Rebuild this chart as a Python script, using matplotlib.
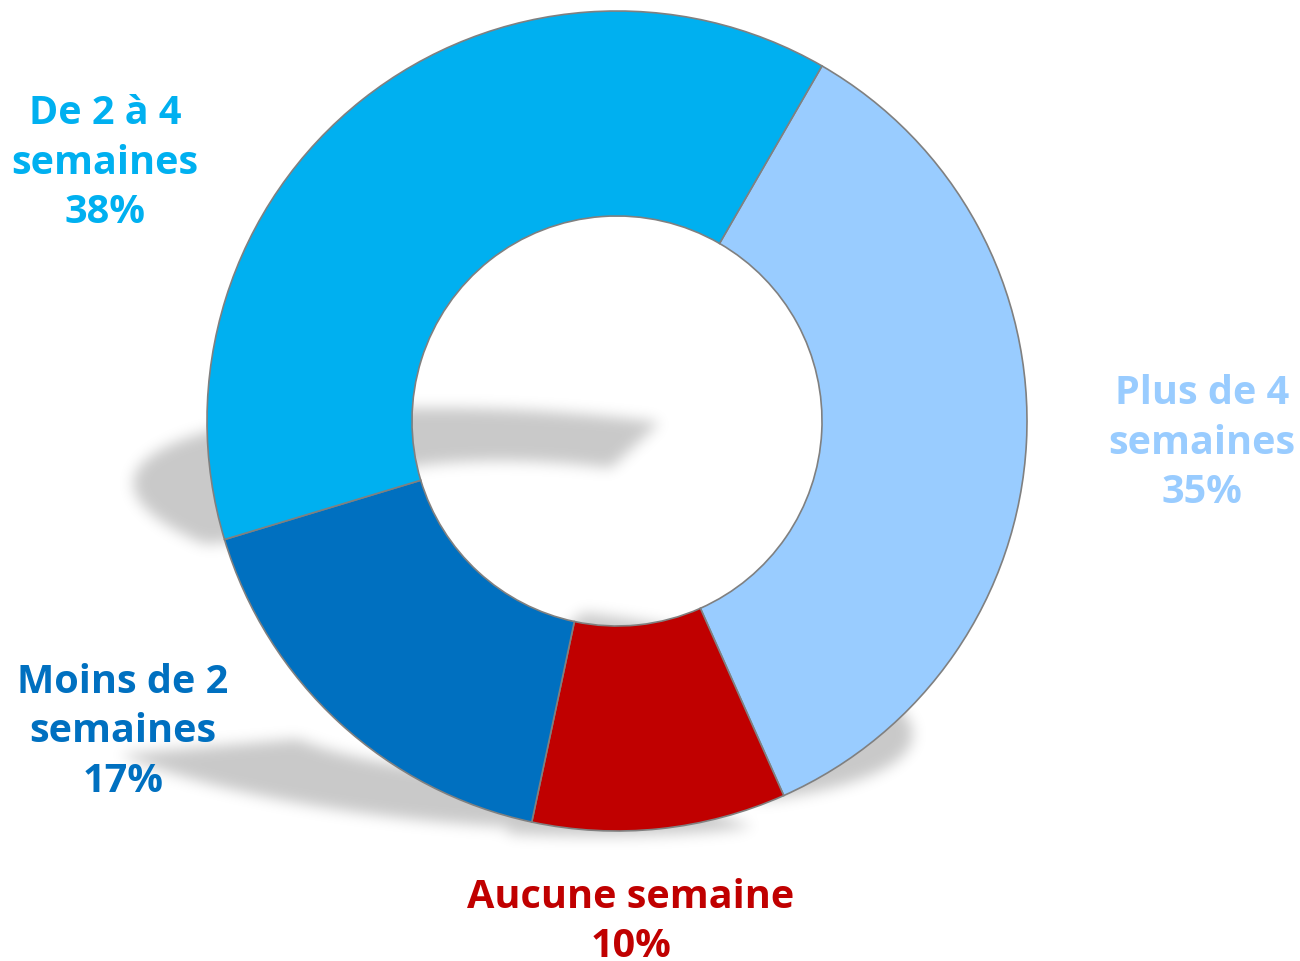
import numpy as np
import matplotlib
matplotlib.use("Agg")
import matplotlib.pyplot as plt
from matplotlib.patches import Polygon

# ---- data ----
categories = ["Plus de 4\nsemaines", "Aucune semaine", "Moins de 2\nsemaines", "De 2 à 4\nsemaines"]
values = [35, 10, 17, 38]
colors = ["#99CCFF", "#C00000", "#0070C0", "#00B0F0"]

# ---- layout (pixel units, y up) ----
W, H = 1300, 962
CX, CY = 617, H - 422
R_OUT, R_W = 410, 205
label_pos = [(1202, H - 443), (631, H - 922), (123, H - 732), (105, H - 163)]

plt.rcParams["font.family"] = ["Open Sans", "DejaVu Sans"]


def setup(fig):
    ax = fig.add_axes([0, 0, 1, 1])
    return ax


fig = plt.figure(figsize=(W / 100, H / 100), dpi=100)
ax = setup(fig)
wedges, _ = ax.pie(values, colors=colors, startangle=60, counterclock=False,
                   center=(CX, CY), radius=R_OUT,
                   wedgeprops=dict(width=R_W, edgecolor="#808080", linewidth=1.2),
                   frame=False)
ax.set_xlim(0, W)
ax.set_ylim(0, H)
ax.set_aspect("auto")
ax.axis("off")

# ---- perspective shadow (one per slice, anchored at slice bottom) ----
sy, kx, ox, oy = 0.257, -0.30, -20, 5
fig2 = plt.figure(figsize=(W / 100, H / 100), dpi=100)
ax2 = setup(fig2)
ax2.set_xlim(0, W)
ax2.set_ylim(0, H)
ax2.axis("off")
for w in wedges:
    for poly in w.get_path().to_polygons():
        xs = poly[:, 0]
        yp = H - poly[:, 1]
        yb = yp.max()
        ypn = yb + sy * (yp - yb) + oy
        xn = xs + kx * (yb - yp) + ox
        ax2.add_patch(Polygon(np.column_stack([xn, H - ypn]), closed=True,
                              facecolor="black", edgecolor="none"))
fig2.canvas.draw()
buf = np.asarray(fig2.canvas.buffer_rgba())[:, :, 0].astype(float)
plt.close(fig2)
mask = 1.0 - buf / 255.0

sigma = 7.0
k = np.arange(-int(3 * sigma), int(3 * sigma) + 1)
g = np.exp(-k ** 2 / (2 * sigma ** 2))
g /= g.sum()
mask = np.apply_along_axis(lambda r: np.convolve(r, g, mode="same"), 1, mask)
mask = np.apply_along_axis(lambda c: np.convolve(c, g, mode="same"), 0, mask)
rgba = np.zeros(mask.shape + (4,))
rgba[..., 3] = np.clip(mask, 0, 1) * 0.215
ax.imshow(rgba, extent=(0, W, 0, H), origin="upper", zorder=0, aspect="auto",
          interpolation="bilinear")
for w in wedges:
    w.set_zorder(2)
ax.set_xlim(0, W)
ax.set_ylim(0, H)

# ---- labels ----
for cat, v, c, (x, y) in zip(categories, values, colors, label_pos):
    ax.text(x, y, f"{cat}\n{v}%", color=c, fontsize=28.5, fontweight="bold",
            ha="center", va="center", linespacing=1.36, zorder=3)

fig.savefig("out.png", dpi=100)
